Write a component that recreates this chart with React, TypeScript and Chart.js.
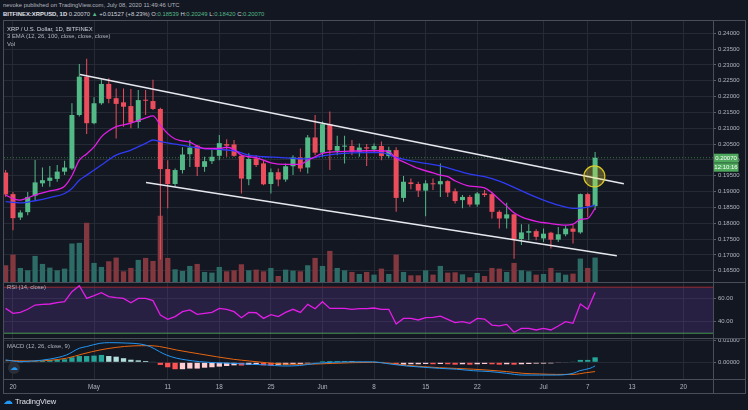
import React, { useEffect, useRef } from "react";
import { Chart, registerables } from "chart.js";

Chart.register(...registerables);

// ---------------- data (day 0 = 2020-04-20, daily candles) ----------------
const FIRST_DAY = -1;

const OPEN = [
  0.1960, 0.1892, 0.1818, 0.1835, 0.1887, 0.1926, 0.1934, 0.1940, 0.1963, 0.1973,
  0.2142, 0.2263, 0.2116, 0.2179, 0.2240, 0.2195, 0.2182, 0.2170, 0.2120, 0.2190,
  0.2186, 0.2161, 0.1971, 0.1924, 0.1968, 0.2018, 0.2045, 0.1978, 0.1996, 0.2013,
  0.2050, 0.2049, 0.2013, 0.1939, 0.2005, 0.1989, 0.1924, 0.1961, 0.1938, 0.1980,
  0.2008, 0.1976, 0.2071, 0.2023, 0.2113, 0.2029, 0.2042, 0.2044, 0.2026, 0.2040,
  0.2033, 0.2044, 0.2012, 0.2031, 0.1880, 0.1929, 0.1924, 0.1903, 0.1926, 0.1923,
  0.1933, 0.1901, 0.1873, 0.1883, 0.1859, 0.1894, 0.1892, 0.1836, 0.1815, 0.1828,
  0.1750, 0.1770, 0.1775, 0.1752, 0.1770, 0.1748, 0.1765, 0.1783, 0.1771, 0.1892,
  0.18539,
];
const HIGH = [
  0.1968, 0.1899, 0.1841, 0.1899, 0.2000, 0.1976, 0.1981, 0.1984, 0.1997, 0.2179,
  0.2303, 0.2320, 0.2198, 0.2255, 0.2258, 0.2226, 0.2226, 0.2224, 0.2221, 0.2221,
  0.2253, 0.2165, 0.1999, 0.1973, 0.2040, 0.2063, 0.2047, 0.2010, 0.2031, 0.2079,
  0.2065, 0.2063, 0.2015, 0.2021, 0.2015, 0.1999, 0.1973, 0.1973, 0.1989, 0.2015,
  0.2036, 0.2079, 0.2142, 0.2121, 0.2153, 0.2076, 0.2076, 0.2063, 0.2052, 0.2050,
  0.2052, 0.2058, 0.2042, 0.2040, 0.1949, 0.1941, 0.1931, 0.1936, 0.1941, 0.1989,
  0.1936, 0.1910, 0.1889, 0.1889, 0.1899, 0.1905, 0.1899, 0.1841, 0.1865, 0.1831,
  0.1797, 0.1797, 0.1781, 0.1783, 0.1773, 0.1788, 0.1792, 0.1794, 0.1894, 0.1896,
  0.20249,
];
const LOW = [
  0.1884, 0.1778, 0.1810, 0.1825, 0.1873, 0.1915, 0.1915, 0.1931, 0.1952, 0.1968,
  0.2137, 0.2082, 0.2113, 0.2174, 0.2179, 0.2068, 0.2105, 0.2100, 0.2100, 0.2142,
  0.2158, 0.1685, 0.1847, 0.1915, 0.1957, 0.1978, 0.1949, 0.1963, 0.1987, 0.1999,
  0.2010, 0.2010, 0.1894, 0.1920, 0.1978, 0.1920, 0.1894, 0.1917, 0.1931, 0.1952,
  0.1963, 0.1957, 0.2015, 0.2010, 0.1968, 0.2015, 0.1989, 0.2015, 0.2010, 0.1981,
  0.2026, 0.1999, 0.2005, 0.1836, 0.1868, 0.1907, 0.1883, 0.1822, 0.1905, 0.1883,
  0.1883, 0.1862, 0.1847, 0.1852, 0.1852, 0.1883, 0.1815, 0.1783, 0.1783, 0.1688,
  0.1731, 0.1746, 0.1746, 0.1741, 0.1720, 0.1741, 0.1759, 0.1736, 0.1767, 0.1820,
  0.18420,
];
const CLOSE = [
  0.1891, 0.1816, 0.1834, 0.1883, 0.1929, 0.1936, 0.1944, 0.1963, 0.1976, 0.2142,
  0.2263, 0.2116, 0.2179, 0.2240, 0.2193, 0.2177, 0.2168, 0.2118, 0.2189, 0.2187,
  0.2161, 0.1971, 0.1924, 0.1968, 0.2017, 0.2039, 0.1978, 0.1996, 0.2010, 0.2053,
  0.2045, 0.2013, 0.1941, 0.2003, 0.1984, 0.1923, 0.1961, 0.1938, 0.1980, 0.2008,
  0.1973, 0.2071, 0.2023, 0.2113, 0.2031, 0.2044, 0.2044, 0.2026, 0.2039, 0.2036,
  0.2044, 0.2012, 0.2031, 0.1880, 0.1931, 0.1924, 0.1903, 0.1926, 0.1923, 0.1933,
  0.1897, 0.1870, 0.1883, 0.1859, 0.1894, 0.1889, 0.1836, 0.1815, 0.1828, 0.1750,
  0.1771, 0.1775, 0.1757, 0.1767, 0.1748, 0.1765, 0.1783, 0.1773, 0.1892, 0.1854,
  0.20070,
];
const VOLUME = [
  50, 82, 42, 35, 78, 54, 43, 35, 40, 115,
  117, 177, 57, 45, 62, 73, 32, 42, 66, 72,
  63, 198, 72, 38, 33, 48, 54, 30, 28, 45,
  32, 35, 53, 35, 37, 32, 42, 18, 37, 34,
  32, 50, 72, 48, 93, 42, 35, 30, 24, 30,
  22, 40, 24, 82, 30, 20, 20, 35, 22, 48,
  28, 29, 23, 14, 27, 18, 42, 40, 30, 57,
  35, 32, 22, 24, 42, 28, 22, 25, 70, 42,
  73,
];

const EMA12_DAYS = [-1, 0, 1, 2, 3, 5, 7, 8, 9, 10, 11, 12, 13, 14, 16, 17, 18, 19, 20, 21, 22, 23, 24, 25, 26, 28, 29, 30, 31, 32, 33, 35, 37, 39, 40, 41, 42, 44, 46, 48, 50, 51, 52, 53, 55, 57, 58, 59, 60, 62, 64, 65, 66, 67, 68, 69, 71, 73, 75, 76, 77, 78, 79];
const EMA12 = [0.1889, 0.1878, 0.1873, 0.1880, 0.1889, 0.1902, 0.1917, 0.1950, 0.1999, 0.2019, 0.2041, 0.2073, 0.2092, 0.2105, 0.2116, 0.2124, 0.2133, 0.2139, 0.2110, 0.2083, 0.2066, 0.2060, 0.2056, 0.2044, 0.2036, 0.2036, 0.2040, 0.2033, 0.2015, 0.2010, 0.2007, 0.1991, 0.1986, 0.1986, 0.1999, 0.2010, 0.2021, 0.2026, 0.2028, 0.2029, 0.2029, 0.2026, 0.2005, 0.1994, 0.1973, 0.1959, 0.1952, 0.1947, 0.1934, 0.1917, 0.1912, 0.1896, 0.1875, 0.1854, 0.1833, 0.1820, 0.1806, 0.1799, 0.1794, 0.1797, 0.1812, 0.1815, 0.1847];

const EMA26_DAYS = [-1, 1, 3, 5, 7, 8, 9, 10, 12, 14, 16, 18, 19, 20, 22, 24, 26, 28, 30, 32, 34, 36, 38, 40, 42, 44, 46, 48, 50, 52, 54, 56, 58, 60, 62, 64, 66, 68, 70, 72, 74, 76, 77, 78, 79];
const EMA26 = [0.1868, 0.1864, 0.1871, 0.1881, 0.1894, 0.1910, 0.1936, 0.1952, 0.1984, 0.2015, 0.2031, 0.2052, 0.2063, 0.2058, 0.2050, 0.2042, 0.2036, 0.2033, 0.2029, 0.2015, 0.2010, 0.2008, 0.2005, 0.2003, 0.2013, 0.2019, 0.2022, 0.2023, 0.2023, 0.2008, 0.1997, 0.1989, 0.1981, 0.1968, 0.1955, 0.1947, 0.1933, 0.1913, 0.1892, 0.1873, 0.1857, 0.1847, 0.1848, 0.1851, 0.1857];

const RSI = [
  51.6, 47.3, 48.1, 50.8, 54.5, 55.1, 55.4, 56.5, 57.4, 66.1,
  71.3, 60.3, 62.6, 65.2, 61.8, 60.9, 60.3, 56.5, 60.3, 60.3,
  58.3, 45.8, 42.0, 44.4, 48.7, 50.2, 46.4, 47.3, 48.1, 51.6,
  50.8, 48.7, 43.5, 48.1, 47.8, 42.9, 46.1, 44.4, 48.1, 50.8,
  48.1, 55.1, 51.3, 57.4, 51.6, 51.6, 51.6, 50.8, 51.3, 51.3,
  51.9, 50.8, 50.8, 38.0, 42.9, 42.9, 41.5, 43.5, 43.8, 44.9,
  42.0, 39.2, 40.0, 38.6, 42.9, 42.3, 37.1, 36.3, 37.7, 30.8,
  34.2, 34.2, 32.8, 34.2, 32.8, 36.3, 40.0, 38.6, 55.4, 50.8,
  65.5,
];
const RSI_UPPER = 70;
const RSI_LOWER = 30;

const MACD_HIST = [
  0.0003, -0.0005, -0.0003, -0.0002, 0.0005, 0.0008, 0.0011, 0.0011, 0.0014, 0.0023,
  0.0029, 0.0029, 0.0031, 0.0034, 0.0029, 0.0026, 0.0019, 0.0012, 0.0009, 0.0006,
  0.0002, -0.0012, -0.0023, -0.0032, -0.0032, -0.0029, -0.0029, -0.0025, -0.0023, -0.0020,
  -0.0017, -0.0014, -0.0015, -0.0012, -0.0012, -0.0014, -0.0015, -0.0012, -0.0011, -0.0009,
  -0.0008, -0.0005, -0.0002, 0.0005, 0.0006, 0.0006, 0.0006, 0.0005, 0.0003, 0.0002,
  0.0002, 0.0002, -0.0003, -0.0011, -0.0011, -0.0009, -0.0009, -0.0008, -0.0009, -0.0008,
  -0.0009, -0.0011, -0.0009, -0.0011, -0.0009, -0.0008, -0.0009, -0.0011, -0.0009, -0.0011,
  -0.0009, -0.0008, -0.0006, -0.0006, -0.0005, -0.0003, -0.0002, 0.0003, 0.0011, 0.0011,
  0.0023,
];
const MACD_DAYS = [-1.0, 0.95, 2.75, 5.0, 7.27, 9.0, 10.0, 11.8, 13.1, 15.4, 17.2, 18.6, 19.9, 20.8, 22.2, 23.5, 25.3, 27.6, 29.9, 32.1, 34.4, 36.6, 38.9, 41.1, 43.4, 45.8, 48.8, 51.2, 53.4, 55.7, 57.9, 60.2, 62.5, 64.7, 67.0, 69.2, 71.5, 73.8, 76.0, 76.9, 78.3, 79.0];
const MACD_LINE = [0.0011, 0.0003, 0.0006, 0.0015, 0.0034, 0.0065, 0.0073, 0.0088, 0.0091, 0.0089, 0.0085, 0.0073, 0.0049, 0.0034, 0.0019, 0.0011, 0.0003, -0.0002, -0.0005, -0.0009, -0.0012, -0.0017, -0.0015, -0.0005, 0.0000, 0.0002, 0.0002, -0.0008, -0.0017, -0.0023, -0.0028, -0.0032, -0.0039, -0.0043, -0.0051, -0.0059, -0.0059, -0.0059, -0.0051, -0.0039, -0.0028, -0.0017];
const SIGNAL_DAYS = [-1.0, 2.75, 7.27, 9.5, 11.8, 14.0, 16.3, 18.6, 19.9, 22.2, 25.3, 29.9, 32.1, 34.4, 36.6, 38.9, 41.1, 43.4, 48.8, 51.2, 53.4, 57.9, 62.5, 67.0, 69.2, 71.5, 73.8, 76.0, 77.8, 79.0];
const SIGNAL_LINE = [0.0008, 0.0006, 0.0019, 0.0039, 0.0057, 0.0069, 0.0076, 0.0077, 0.0073, 0.0057, 0.0039, 0.0014, 0.0006, -0.0002, -0.0008, -0.0009, -0.0008, -0.0005, 0.0000, -0.0005, -0.0014, -0.0025, -0.0032, -0.0043, -0.0051, -0.0054, -0.0056, -0.0056, -0.0048, -0.0043];

const UPPER_TREND_DAYS = [9.09, 82.9];
const UPPER_TREND = [0.2270, 0.1925];
const LOWER_TREND_DAYS = [18.05, 81.95];
const LOWER_TREND = [0.1929, 0.1697];
const MARK_DAYS = [78.9];
const MARK_PRICES = [0.1948];

const LAST_PRICE = 0.2007;
const LAST_PRICE_LABEL = "0.20070";
const COUNTDOWN = "12:10:16";

const TICK_DAYS = [0, 11, 21, 28, 35, 42, 49, 56, 63, 72, 78, 84, 91];
const TICK_LABELS = ["20", "May", "11", "18", "25", "Jun", "8", "15", "22", "Jul", "7", "13", "20"];
const PRICE_TICKS = [0.165, 0.17, 0.175, 0.18, 0.185, 0.19, 0.195, 0.2, 0.205, 0.21, 0.215, 0.22, 0.225, 0.23, 0.235, 0.24];
const RSI_TICKS = [40, 60];
const MACD_TICKS = [0, 0.01];

// ---------------- styling ----------------
const BG = "#131722";
const GRID = "#262a35";
const FRAME = "#4a4e5a";
const TEXT = "#b2b5be";
const UP = "#53b987";
const DOWN = "#eb4d5c";
const VOL_UP = "#2c6b66";
const VOL_DOWN = "#82383e";
const MAGENTA = "#e21ee6";
const BLUE = "#2f3bf5";
const FONT = "'Liberation Sans', Arial, sans-serif";

const X_MIN = -1.22;
const X_MAX = 95;

function xAxis(showLabels: boolean): any {
  return {
    type: "linear",
    min: X_MIN,
    max: X_MAX,
    offset: false,
    grid: { color: GRID, drawTicks: false, offset: false },
    border: { display: false },
    ticks: {
      display: showLabels,
      color: TEXT,
      font: { size: 6.3, family: FONT },
      padding: 4,
      maxRotation: 0,
      autoSkip: false,
      callback: (v: number) => {
        const i = TICK_DAYS.indexOf(v);
        return i < 0 ? "" : TICK_LABELS[i];
      },
    },
    afterBuildTicks: (s: any) => {
      s.ticks = TICK_DAYS.map((v) => ({ value: v }));
    },
    afterFit: (s: any) => {
      s.height = showLabels ? 15 : 0;
      s.paddingLeft = 0;
      s.paddingRight = 0;
    },
  };
}

function yAxis(min: number, max: number, ticks: number[], digits: number): any {
  return {
    type: "linear",
    position: "right",
    min,
    max,
    grid: { color: GRID, tickLength: 3, tickColor: "#5d606b" },
    border: { display: false },
    ticks: {
      color: TEXT,
      font: { size: 6, family: FONT },
      padding: 2,
      autoSkip: false,
      callback: (v: number) => Number(v).toFixed(digits),
    },
    afterBuildTicks: (s: any) => {
      s.ticks = ticks.map((v) => ({ value: v }));
    },
    afterFit: (s: any) => {
      s.width = 32;
      s.paddingTop = 0;
      s.paddingBottom = 0;
    },
  };
}

const basePlugins = { legend: { display: false }, tooltip: { enabled: false } };
const baseLayout = { padding: 0, autoPadding: false };

const lastPriceTag = {
  id: "lastPriceTag",
  afterDraw(chart: any) {
    const { ctx, chartArea } = chart;
    const y = chart.scales.y.getPixelForValue(LAST_PRICE);
    const x0 = chartArea.right + 0.5;
    ctx.save();
    ctx.fillStyle = "#4fa95c";
    ctx.fillRect(x0, y - 4, 25, 9);
    ctx.fillRect(x0, y + 5.5, 25, 8.5);
    ctx.fillStyle = "#ffffff";
    ctx.font = `6px ${FONT}`;
    ctx.textBaseline = "middle";
    ctx.textAlign = "center";
    ctx.fillText(LAST_PRICE_LABEL, x0 + 12.5, y + 0.6);
    ctx.fillText(COUNTDOWN, x0 + 12.5, y + 9.9);
    ctx.restore();
  },
};

export default function App() {
  const priceRef = useRef<HTMLCanvasElement>(null);
  const rsiRef = useRef<HTMLCanvasElement>(null);
  const macdRef = useRef<HTMLCanvasElement>(null);

  useEffect(() => {
    const days = CLOSE.map((_, i) => FIRST_DAY + i);
    const isUp = CLOSE.map((c, i) => c >= OPEN[i]);
    const candleColors = isUp.map((u) => (u ? UP : DOWN));
    const volColors = isUp.map((u) => (u ? VOL_UP : VOL_DOWN));
    const histColors = MACD_HIST.map((v, i) => {
      const p = i > 0 ? MACD_HIST[i - 1] : v;
      if (v >= 0) return v >= p ? "#26a69a" : "#b2dfdb";
      return v < p ? "#ff5252" : "#ffcdd2";
    });

    const priceChart = new Chart(priceRef.current as HTMLCanvasElement, {
      type: "bar",
      data: {
        datasets: [
          {
            type: "bar",
            label: "Vol",
            data: VOLUME.map((v, i) => ({ x: days[i], y: v })),
            yAxisID: "yVol",
            backgroundColor: volColors,
            grouped: false,
            maxBarThickness: 6,
            inflateAmount: 0,
            order: 20,
          } as any,
          {
            type: "bar",
            label: "wick",
            data: days.map((d, i) => ({ x: d, y: [LOW[i], HIGH[i]] })),
            yAxisID: "y",
            backgroundColor: candleColors,
            grouped: false,
            maxBarThickness: 1,
            inflateAmount: 0,
            order: 12,
          } as any,
          {
            type: "bar",
            label: "body",
            data: days.map((d, i) => ({ x: d, y: [OPEN[i], CLOSE[i]] })),
            yAxisID: "y",
            backgroundColor: candleColors,
            grouped: false,
            maxBarThickness: 5,
            minBarLength: 1,
            inflateAmount: 0,
            order: 11,
          } as any,
          {
            type: "line",
            label: "last",
            data: [{ x: X_MIN, y: LAST_PRICE }, { x: X_MAX, y: LAST_PRICE }],
            yAxisID: "y",
            borderColor: "rgba(76,175,80,0.6)",
            borderWidth: 1,
            borderDash: [1, 2],
            pointRadius: 0,
            order: 15,
          } as any,
          {
            type: "line",
            label: "EMA 12",
            data: EMA12_DAYS.map((d, i) => ({ x: d, y: EMA12[i] })),
            yAxisID: "y",
            borderColor: MAGENTA,
            borderWidth: 1.3,
            pointRadius: 0,
            cubicInterpolationMode: "monotone",
            order: 8,
          } as any,
          {
            type: "line",
            label: "EMA 26",
            data: EMA26_DAYS.map((d, i) => ({ x: d, y: EMA26[i] })),
            yAxisID: "y",
            borderColor: BLUE,
            borderWidth: 1.3,
            pointRadius: 0,
            cubicInterpolationMode: "monotone",
            order: 9,
          } as any,
          {
            type: "line",
            label: "upper",
            data: UPPER_TREND_DAYS.map((d, i) => ({ x: d, y: UPPER_TREND[i] })),
            yAxisID: "y",
            borderColor: "#e6e8ee",
            borderWidth: 1.5,
            pointRadius: 0,
            order: 5,
          } as any,
          {
            type: "line",
            label: "lower",
            data: LOWER_TREND_DAYS.map((d, i) => ({ x: d, y: LOWER_TREND[i] })),
            yAxisID: "y",
            borderColor: "#e6e8ee",
            borderWidth: 1.5,
            pointRadius: 0,
            order: 5,
          } as any,
          {
            type: "line",
            label: "mark",
            data: MARK_DAYS.map((d, i) => ({ x: d, y: MARK_PRICES[i] })),
            yAxisID: "y",
            showLine: false,
            pointRadius: 10.5,
            pointBackgroundColor: "rgba(255,235,59,0.28)",
            pointBorderColor: "rgba(225,205,40,0.95)",
            pointBorderWidth: 1.2,
            order: 1,
          } as any,
        ],
      },
      options: {
        responsive: false,
        animation: false,
        events: [],
        layout: baseLayout as any,
        plugins: basePlugins as any,
        scales: {
          x: xAxis(false),
          y: yAxis(0.16143, 0.24389, PRICE_TICKS, 5),
          yVol: { type: "linear", display: false, min: 0, max: 780 },
        } as any,
      },
      plugins: [lastPriceTag],
    });

    const rsiChart = new Chart(rsiRef.current as HTMLCanvasElement, {
      type: "line",
      data: {
        datasets: [
          {
            label: "upper band",
            data: [{ x: X_MIN, y: RSI_UPPER }, { x: X_MAX, y: RSI_UPPER }],
            borderColor: "#9b2c35",
            borderWidth: 1,
            pointRadius: 0,
            fill: "+1",
            backgroundColor: "rgba(126,70,200,0.2)",
            order: 5,
          } as any,
          {
            label: "lower band",
            data: [{ x: X_MIN, y: RSI_LOWER }, { x: X_MAX, y: RSI_LOWER }],
            borderColor: "#43a047",
            borderWidth: 1,
            pointRadius: 0,
            fill: false,
            order: 5,
          } as any,
          {
            label: "RSI",
            data: RSI.map((v, i) => ({ x: days[i], y: v })),
            borderColor: MAGENTA,
            borderWidth: 1.3,
            pointRadius: 0,
            fill: false,
            order: 1,
          } as any,
        ],
      },
      options: {
        responsive: false,
        animation: false,
        events: [],
        layout: baseLayout as any,
        plugins: basePlugins as any,
        scales: {
          x: xAxis(false),
          y: yAxis(25.83, 73.65, RSI_TICKS, 2),
        } as any,
      },
    });

    const macdChart = new Chart(macdRef.current as HTMLCanvasElement, {
      type: "bar",
      data: {
        datasets: [
          {
            type: "bar",
            label: "Histogram",
            data: MACD_HIST.map((v, i) => ({ x: days[i], y: v })),
            backgroundColor: histColors,
            grouped: false,
            maxBarThickness: 6,
            inflateAmount: 0,
            order: 5,
          } as any,
          {
            type: "line",
            label: "MACD",
            data: MACD_DAYS.map((d, i) => ({ x: d, y: MACD_LINE[i] })),
            borderColor: "#2196f3",
            borderWidth: 1,
            pointRadius: 0,
            cubicInterpolationMode: "monotone",
            order: 2,
          } as any,
          {
            type: "line",
            label: "Signal",
            data: SIGNAL_DAYS.map((d, i) => ({ x: d, y: SIGNAL_LINE[i] })),
            borderColor: "#e8650f",
            borderWidth: 1,
            pointRadius: 0,
            cubicInterpolationMode: "monotone",
            order: 3,
          } as any,
        ],
      },
      options: {
        responsive: false,
        animation: false,
        events: [],
        layout: baseLayout as any,
        plugins: basePlugins as any,
        scales: {
          x: xAxis(true),
          y: yAxis(-0.00773, 0.01125, MACD_TICKS, 5),
        } as any,
      },
    });

    return () => {
      priceChart.destroy();
      rsiChart.destroy();
      macdChart.destroy();
    };
  }, []);

  const line = (l: number, t: number, w: number, h: number) => (
    <div style={{ position: "absolute", left: l, top: t, width: w, height: h, background: FRAME }} />
  );
  const txt: React.CSSProperties = { position: "absolute", whiteSpace: "nowrap", fontSize: 5.9, lineHeight: "8px" };
  const green = { color: UP };

  return (
    <div
      style={{
        position: "fixed",
        left: 0,
        top: 0,
        width: 748,
        height: 410,
        background: BG,
        overflow: "hidden",
        fontFamily: FONT,
        color: "#d1d4dc",
      }}
    >
      <div style={{ ...txt, left: 3, top: 1, color: "#b2b5be" }}>
        nevoke published on TradingView.com, July 08, 2020 11:49:46 UTC
      </div>
      <div style={{ ...txt, left: 3, top: 10 }}>
        <b style={{ color: "#e0e3eb" }}>BITFINEX:XRPUSD, 1D</b> 0.20070 <span style={green}>▲</span> +0.01527 (+8.23%){" "}
        O:<span style={green}>0.18539</span> H:<span style={green}>0.20249</span> L:
        <span style={green}>0.18420</span> C:<span style={green}>0.20070</span>
      </div>

      <canvas ref={priceRef} width={741} height={261} style={{ position: "absolute", left: 4, top: 21, width: 741, height: 261 }} />
      <canvas ref={rsiRef} width={741} height={55} style={{ position: "absolute", left: 4, top: 283, width: 741, height: 55 }} />
      <canvas ref={macdRef} width={741} height={56} style={{ position: "absolute", left: 4, top: 338, width: 741, height: 56 }} />

      {line(3, 20, 743, 1)}
      {line(3, 20, 1, 374)}
      {line(745, 20, 1, 374)}
      {line(3, 393, 743, 1)}
      {line(713, 20, 1, 374)}
      {line(4, 282, 741, 1)}
      {line(4, 338, 741, 1)}
      {line(4, 379, 741, 1)}

      <div style={{ ...txt, left: 7, top: 25, color: "#d1d4dc" }}>XRP / U.S. Dollar, 1D, BITFINEX</div>
      <div style={{ ...txt, left: 7, top: 32, color: "#b2b5be" }}>3 EMA (12, 26, 100, close, close, close)</div>
      <div style={{ ...txt, left: 7, top: 39.5, color: "#b2b5be" }}>Vol</div>
      <div style={{ ...txt, left: 7, top: 283, color: "#b2b5be" }}>RSI (14, close)</div>
      <div style={{ ...txt, left: 7, top: 342, color: "#b2b5be" }}>MACD (12, 26, close, 9)</div>

      <div
        style={{
          position: "absolute",
          left: 8,
          top: 362,
          width: 12,
          height: 12,
          borderRadius: 6,
          background: "#2a2e39",
          color: "#2196f3",
          fontSize: 8,
          lineHeight: "12px",
          textAlign: "center",
        }}
      >
        ☁
      </div>
      <div style={{ position: "absolute", left: 3, top: 396, fontSize: 7.5, lineHeight: "10px", color: "#e0e3eb", whiteSpace: "nowrap" }}>
        <span style={{ color: "#2196f3", fontSize: 10 }}>☁</span> TradingView
      </div>
    </div>
  );
}
